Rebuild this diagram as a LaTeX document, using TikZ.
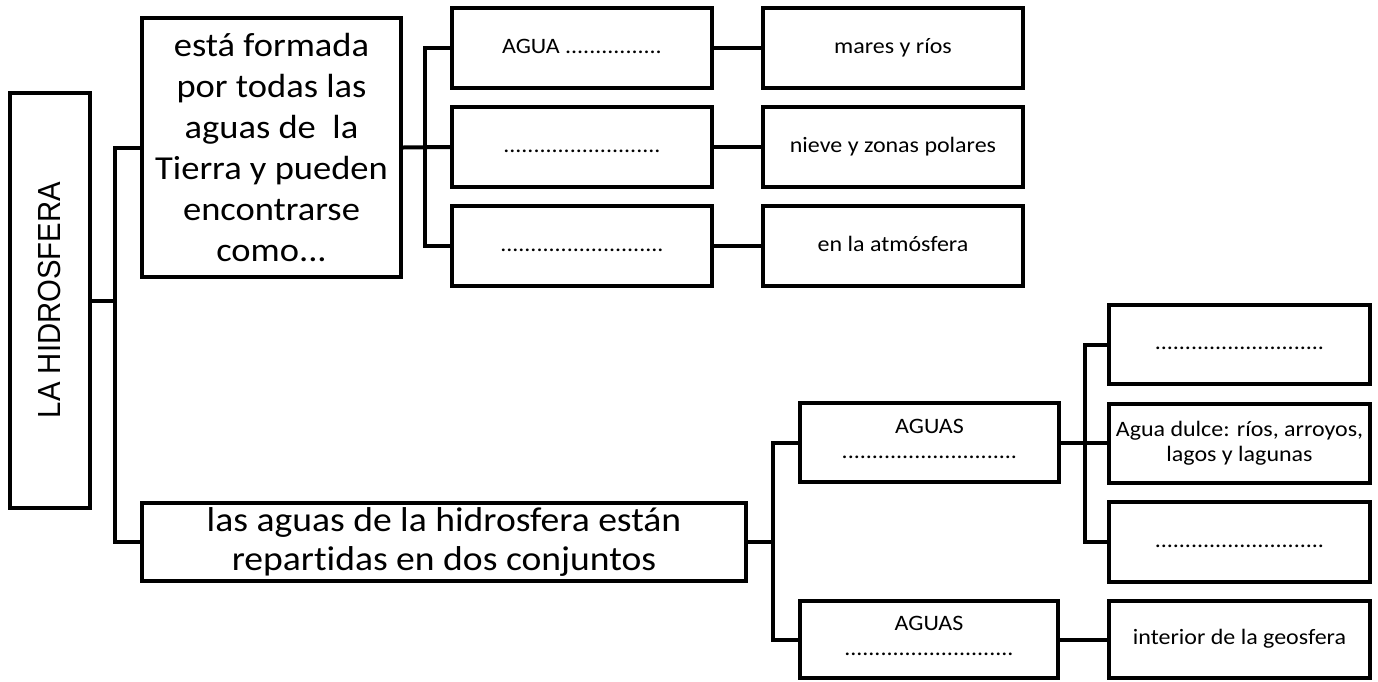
\documentclass[tikz,border=0pt]{standalone}
\usepackage{fontspec}
\setmainfont{Carlito}[FakeStretch=1.09, Ligatures={NoCommon}]
\newfontfamily\hidrofont{Liberation Sans}
\begin{document}
\begin{tikzpicture}[x=1pt,y=-1pt,
  box/.style={draw, line width=4pt, inner sep=0pt, align=center, fill=white},
  wide/.style={minimum width=260pt, minimum height=80pt},
  small/.style={font=\fontsize{22}{25}\selectfont},
  big/.style={font=\fontsize{33.5}{41}\selectfont},
  link/.style={draw, line width=4pt, line join=miter}]
\fill[white] (0,0) rectangle (1378,681);
\useasboundingbox (0,0) rectangle (1378,681);

% level 0
\node[box, minimum width=80pt, minimum height=415pt] (hidro) at (50,300.5) {};
\node[rotate=90, inner sep=0pt] (hidrotxt) at (50,300) {\scalebox{1}[1.09]{\hidrofont\fontsize{29.3}{34}\selectfont LA HIDROSFERA}};

% level 1
\node[box, big, minimum width=259pt, minimum height=259pt] (formada) at (271.5,147.5)
  {está formada\\por todas las\\aguas de\ \ la\\Tierra y pueden\\encontrarse\\como...};
\node[box, minimum width=604pt, minimum height=78pt, font=\fontsize{34.5}{39}\selectfont] (repart) at (444,542)
  {las aguas de la hidrosfera están\\repartidas en dos conjuntos};

% level 2 (top)
\node[box, wide, small] (c1r1) at (582,48) {\strut AGUA ................};
\node[box, wide, small] (c1r2) at (582,147) {\strut ..........................};
\node[box, wide, small] (c1r3) at (582,246) {\strut ...........................};
\node[box, wide, small] (c2r1) at (893,48) {\strut mares y ríos};
\node[box, wide, small] (c2r2) at (893,147) {\strut nieve y zonas polares};
\node[box, wide, small] (c2r3) at (893,246) {\strut en la atmósfera};

% level 2 (bottom)
\node[box, small, minimum width=259pt, minimum height=79pt] (aguas1) at (929.5,442.5) {AGUAS\\\strut.............................};
\node[box, small, minimum width=258pt, minimum height=77pt] (aguas2) at (929,639.5) {AGUAS\\\strut............................};

% level 3
\node[box, small, minimum width=261pt, minimum height=79pt] (rA) at (1239.5,344.5) {\strut ............................};
\node[box, small, minimum width=261pt, minimum height=79pt] (rB) at (1239.5,443.5) {Agua dulce: ríos, arroyos,\\lagos y lagunas};
\node[box, small, minimum width=261pt, minimum height=80pt] (rC) at (1239.5,542) {\strut ............................};
\node[box, small, minimum width=261pt, minimum height=77pt] (rD) at (1239.5,639.5) {\strut interior de la geosfera};

% connectors
\coordinate (b1) at (115,300.5);
\draw[link] (hidro.east) -- (b1);
\draw[link] (formada.west) -| (b1) |- (repart.west);

\coordinate (b2) at (425,147);
\draw[link] (formada.east) -- (c1r2.west);
\draw[link] (c1r1.west) -| (b2) |- (c1r3.west);
\draw[link] (c1r1.east) -- (c2r1.west);
\draw[link] (c1r2.east) -- (c2r2.west);
\draw[link] (c1r3.east) -- (c2r3.west);

\coordinate (b3) at (773,542);
\draw[link] (repart.east) -- (b3);
\draw[link] (aguas1.west) -| (b3) |- (aguas2.west);

\coordinate (b4) at (1085,442.5);
\draw[link] (aguas1.east) -- (aguas1.east -| rB.west);
\draw[link] (rA.west) -| (b4) |- (rC.west);
\draw[link] (aguas2.east) -- (rD.west);
\end{tikzpicture}
\end{document}
